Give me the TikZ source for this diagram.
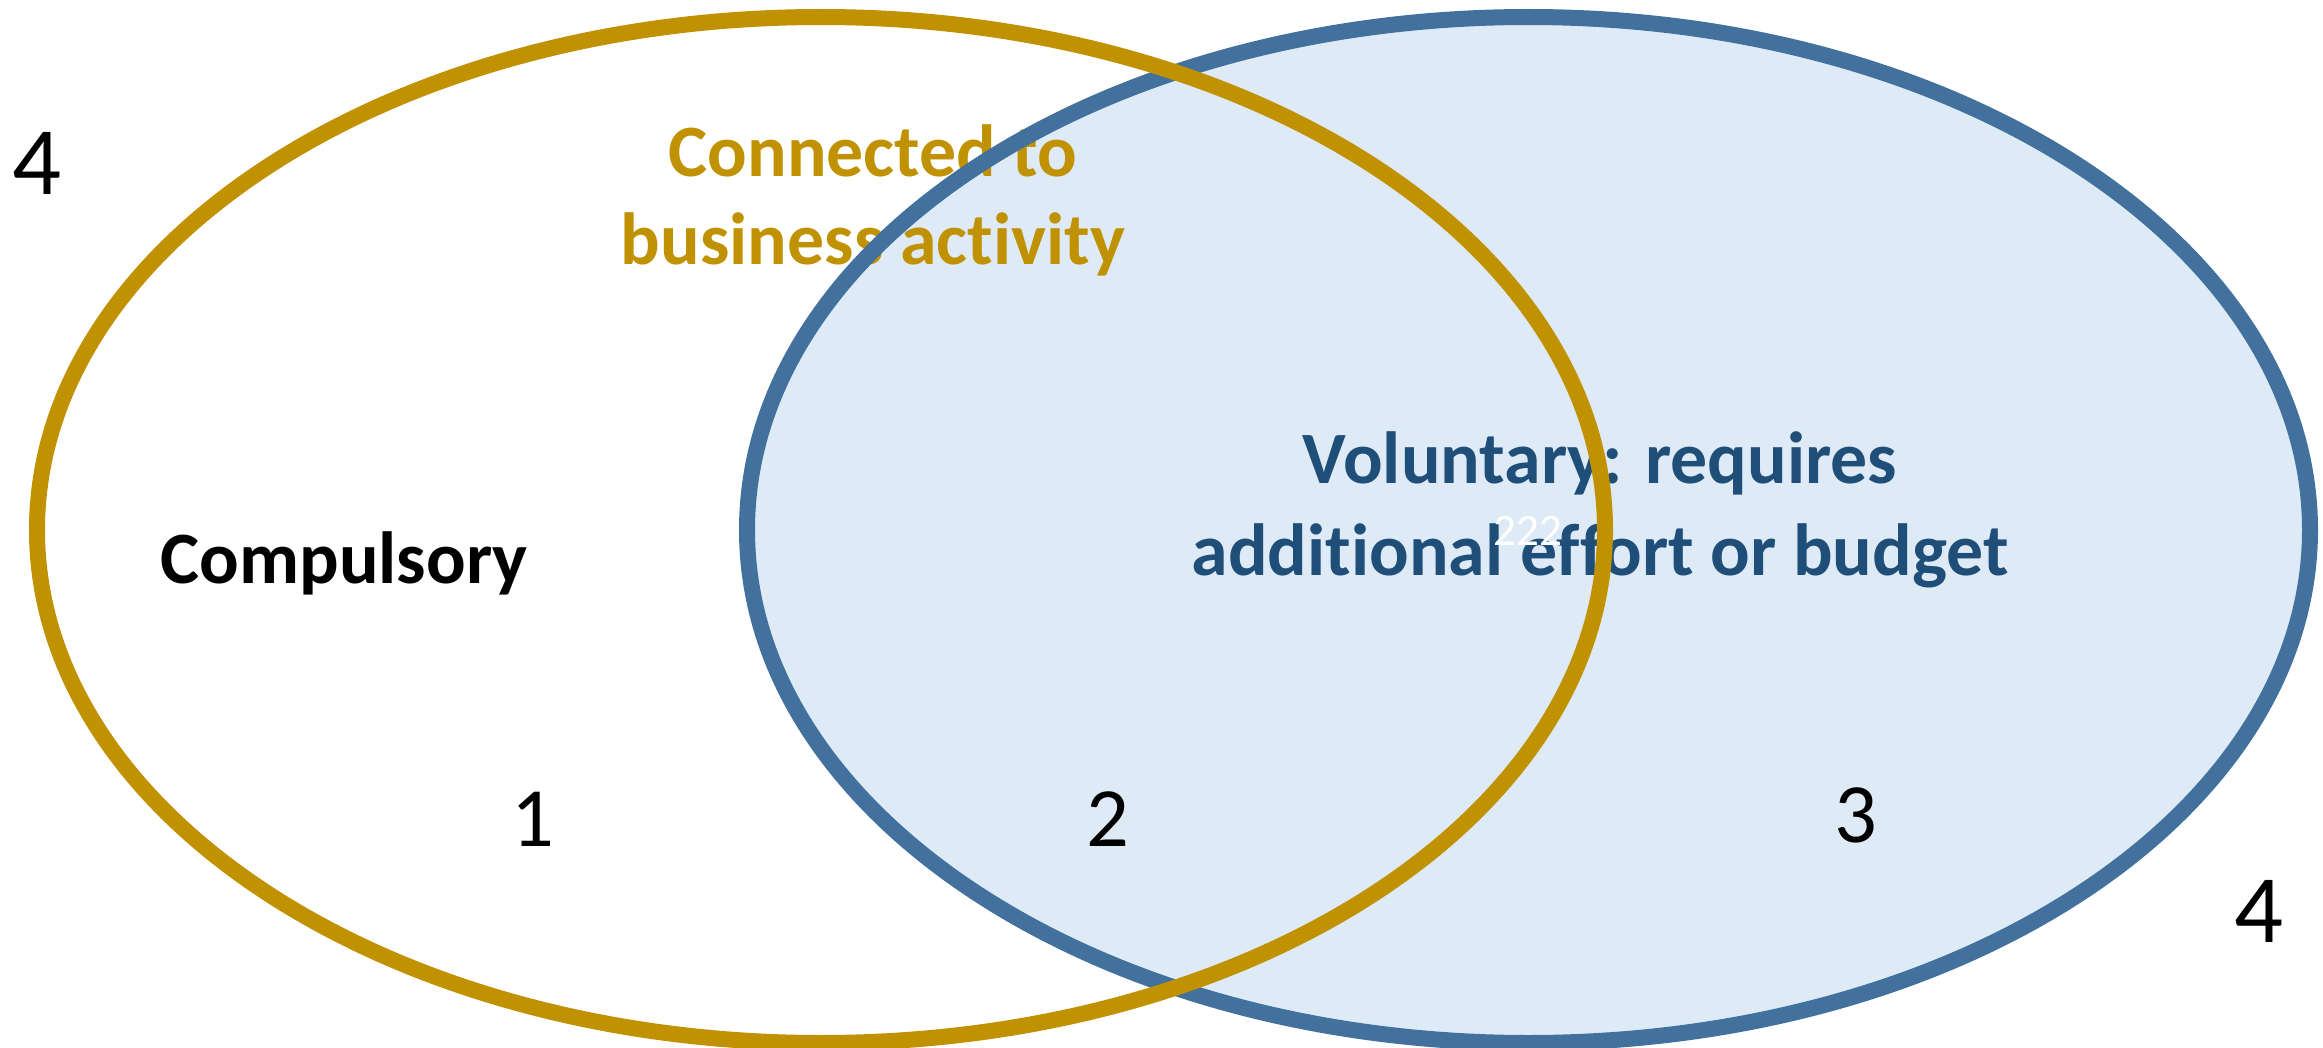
\documentclass[tikz,border=0pt]{standalone}
\usepackage{fontspec}
\setmainfont[Ligatures={NoCommon,NoRare,NoContextual}]{Carlito}
\definecolor{goldc}{RGB}{192,145,0}
\definecolor{bluec}{RGB}{65,113,156}
\definecolor{bluefill}{RGB}{222,235,247}
\definecolor{bluetext}{RGB}{31,78,121}
\begin{document}
\begin{tikzpicture}[x=0.01cm,y=-0.01cm,
  ring/.style={line width=0.16cm},
  boldlabel/.style={font=\fontsize{21pt}{25.5pt}\selectfont\bfseries, align=center, inner sep=0pt},
  numlabel/.style={font=\fontsize{24pt}{28pt}\selectfont, inner sep=0pt},
  biglabel/.style={font=\fontsize{27.5pt}{32pt}\selectfont, inner sep=0pt}]
\useasboundingbox (0,0) rectangle (2323,1048);
% blue fill
\fill[bluefill] (1528.5,530) ellipse [x radius=781.5, y radius=513];
% texts
\node[boldlabel, text=goldc] (conn) at (873,200) {Connected to\\[-0.5pt]business activity};
\node[boldlabel, text=black] (comp) at (344,563) {Compulsory};
\node[boldlabel, text=bluetext, font=\fontsize{21pt}{26.3pt}\selectfont\bfseries] (vol) at (1600,510) {Voluntary: requires\\additional effort or budget};
\node[font=\fontsize{12.8pt}{15pt}\selectfont, text=white, inner sep=0pt] (q) at (1528,531) {222};
\node[numlabel] (n1) at (533,819) {1};
\node[numlabel] (n2) at (1108,819) {2};
\node[numlabel] (n3) at (1856,815) {3};
\node[biglabel] (n4a) at (37,163) {4};
\node[biglabel] (n4b) at (2259,911) {4};
% outlines
\draw[ring, bluec] (1528.5,530) ellipse [x radius=781.5, y radius=513];
\draw[ring, goldc] (821,530) ellipse [x radius=784, y radius=513];
\end{tikzpicture}
\end{document}
